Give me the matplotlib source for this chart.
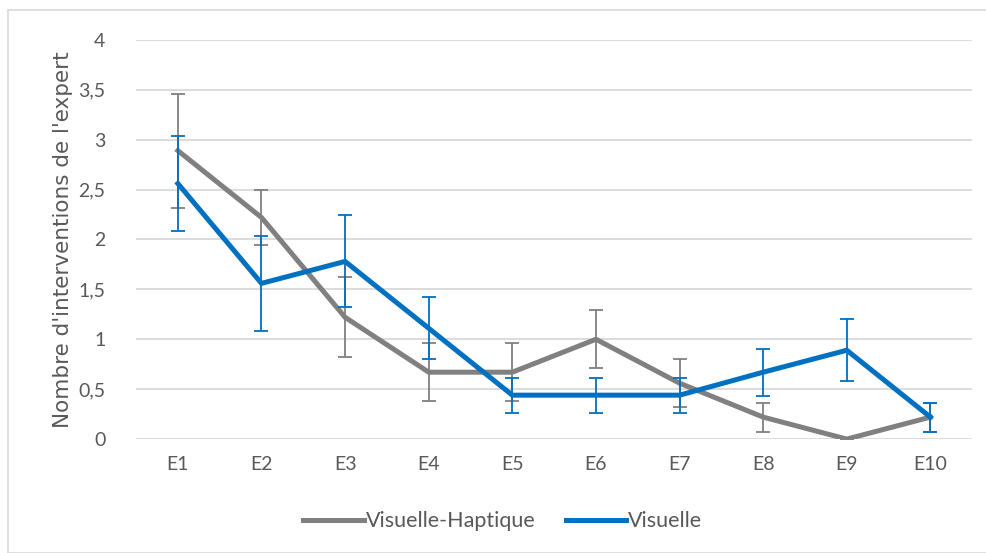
import matplotlib.pyplot as plt
import matplotlib.patches as mpatches
import numpy as np

categories = ["E1", "E2", "E3", "E4", "E5", "E6", "E7", "E8", "E9", "E10"]
vh_values = [2.89, 2.22, 1.22, 0.67, 0.67, 1.0, 0.56, 0.22, 0.0, 0.22]
vh_err = [0.57, 0.28, 0.40, 0.29, 0.29, 0.29, 0.24, 0.145, 0.0, 0.145]
v_values = [2.56, 1.56, 1.78, 1.11, 0.44, 0.44, 0.44, 0.67, 0.89, 0.22]
v_err = [0.475, 0.475, 0.46, 0.31, 0.175, 0.175, 0.175, 0.235, 0.31, 0.145]
yticks = [0, 0.5, 1, 1.5, 2, 2.5, 3, 3.5, 4]
ytick_labels = ["0", "0,5", "1", "1,5", "2", "2,5", "3", "3,5", "4"]

gray = "#808080"
blue = "#0070C0"
txt = "#595959"
font = ["Lato", "DejaVu Sans"]

fig = plt.figure(figsize=(9.86, 5.53), dpi=100)
fig.patches.append(mpatches.Rectangle((8 / 986, 0), 1, 543 / 553, transform=fig.transFigure,
                                      fill=False, edgecolor="#d9d9d9", linewidth=1.2))
ax = fig.add_axes([0.138, 0.206, 0.848, 0.722])

x = np.arange(len(categories))
ax.errorbar(x, vh_values, yerr=vh_err, color=gray, linewidth=3.6, ecolor=gray,
            elinewidth=1.3, capsize=5, capthick=1.3, label="Visuelle-Haptique", zorder=3)
ax.errorbar(x, v_values, yerr=v_err, color=blue, linewidth=3.6, ecolor=blue,
            elinewidth=1.3, capsize=5, capthick=1.3, label="Visuelle", zorder=4)

ax.set_xlim(-0.5, len(categories) - 0.5)
ax.set_ylim(0, 4)
ax.set_yticks(yticks)
ax.set_yticklabels(ytick_labels, family=font, fontsize=14, color=txt)
ax.set_xticks(x)
ax.set_xticklabels(categories, family=font, fontsize=14, color=txt)
ax.tick_params(length=0)
ax.tick_params(axis="y", pad=22)
ax.tick_params(axis="x", pad=12)
ax.grid(axis="y", color="#d9d9d9", linewidth=1.3)
ax.set_axisbelow(True)
for s in ax.spines.values():
    s.set_visible(False)

ax.set_ylabel("Nombre d'interventions de l'expert", family=["DejaVu Sans"],
              fontsize=15.5, color=txt, labelpad=4)

handles, labels = ax.get_legend_handles_labels()
handles = [h[0] for h in handles]
leg = fig.legend(handles, labels, loc="center", bbox_to_anchor=(0.51, 0.057), ncol=2,
                 frameon=False, prop={"family": font, "size": 15.5}, handlelength=2.8,
                 handletextpad=0.1, columnspacing=1.4)
for t in leg.get_texts():
    t.set_color(txt)

fig.savefig("out.png", dpi=100)
